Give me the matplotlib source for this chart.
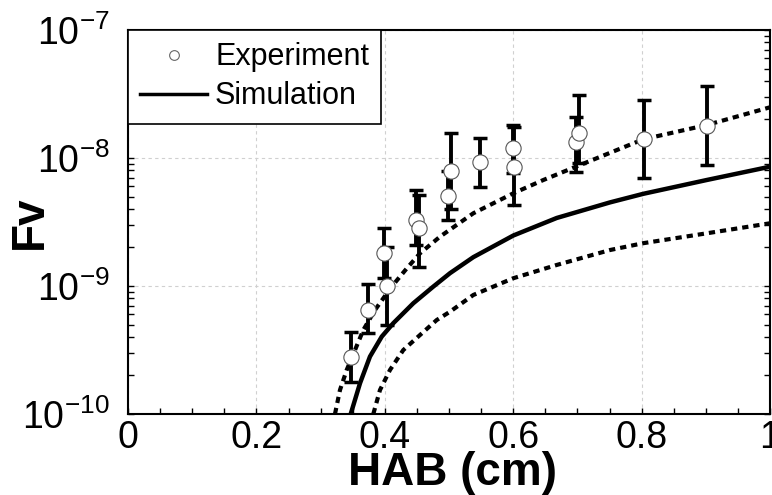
import numpy as np
import matplotlib
matplotlib.use("Agg")
import matplotlib.pyplot as plt
from matplotlib.lines import Line2D
from matplotlib.ticker import FixedLocator, FixedFormatter, LogLocator, NullFormatter

plt.rcParams['font.family'] = ['Liberation Sans', 'DejaVu Sans']
plt.rcParams['mathtext.fontset'] = 'custom'
plt.rcParams['mathtext.rm'] = 'Liberation Sans'
plt.rcParams['mathtext.it'] = 'Liberation Sans:italic'
plt.rcParams['mathtext.bf'] = 'Liberation Sans:bold'

# ---- data ----
exp_x = [0.348, 0.374, 0.398, 0.403, 0.448, 0.453, 0.498, 0.503, 0.548,
         0.599, 0.602, 0.698, 0.703, 0.803, 0.902]
exp_y = [2.81e-10, 6.49e-10, 1.82e-9, 1.00e-9, 3.28e-9, 2.82e-9, 5.05e-9, 7.94e-9, 9.25e-9,
         1.19e-8, 8.55e-9, 1.34e-8, 1.56e-8, 1.41e-8, 1.78e-8]
exp_hi = [4.40e-10, 1.04e-9, 2.82e-9, 2.03e-9, 5.62e-9, 5.13e-9, 7.94e-9, 1.58e-8, 1.43e-8,
          1.81e-8, 1.74e-8, 2.08e-8, 3.10e-8, 2.84e-8, 3.65e-8]
exp_lo = [1.79e-10, 4.27e-10, 1.15e-9, 4.95e-10, 2.09e-9, 1.41e-9, 3.28e-9, 3.98e-9, 5.97e-9,
          7.59e-9, 4.30e-9, 7.73e-9, 9.12e-9, 7.02e-9, 8.81e-9]

sim_x = [0.3469, 0.3614, 0.3769, 0.3952, 0.4132, 0.4444, 0.4755, 0.5016, 0.5379,
         0.6002, 0.6678, 0.7508, 0.8026, 0.9014, 1.0]
sim_y = [1.0e-10, 1.74e-10, 2.81e-10, 4.02e-10, 5.12e-10, 7.33e-10, 9.89e-10, 1.26e-9, 1.68e-9,
         2.48e-9, 3.40e-9, 4.50e-9, 5.25e-9, 6.73e-9, 8.55e-9]

upper_x = [0.3224, 0.3302, 0.3407, 0.3536, 0.3665, 0.3847, 0.4107, 0.4341, 0.4548,
           0.4860, 0.5379, 0.6002, 0.6469, 0.7352, 0.8026, 0.9014, 1.0]
upper_y = [1.0e-10, 1.54e-10, 2.21e-10, 3.16e-10, 4.53e-10, 6.49e-10, 9.89e-10, 1.37e-9, 1.80e-9,
           2.43e-9, 3.70e-9, 5.30e-9, 6.73e-9, 1.02e-8, 1.40e-8, 1.81e-8, 2.49e-8]

lower_x = [0.3821, 0.3925, 0.4081, 0.4288, 0.4548, 0.4808, 0.5016, 0.5379, 0.6002,
           0.6678, 0.7508, 0.8026, 0.9014, 1.0]
lower_y = [1.0e-10, 1.54e-10, 2.21e-10, 3.16e-10, 4.14e-10, 5.42e-10, 6.30e-10, 8.51e-10, 1.15e-9,
           1.46e-9, 1.91e-9, 2.16e-9, 2.58e-9, 3.09e-9]

xticks = [0, 0.2, 0.4, 0.6, 0.8, 1.0]
xtick_labels = ['0', '0.2', '0.4', '0.6', '0.8', '1']
yticks = [1e-10, 1e-9, 1e-8, 1e-7]
ytick_labels = [r'$\mathregular{10^{-10}}$', r'$\mathregular{10^{-9}}$',
                r'$\mathregular{10^{-8}}$', r'$\mathregular{10^{-7}}$']

# ---- figure ----
fig = plt.figure(figsize=(7.72, 4.95), dpi=100)
ax = fig.add_axes([128/772, 1-414/495, 642/772, 384/495])
ax.set_yscale('log')
ax.set_xlim(0, 1)
ax.set_ylim(1e-10, 1e-7)

dash = (0, (1.5, 1.2))
ax.plot(upper_x, upper_y, color='black', lw=3, linestyle=dash, zorder=2)
ax.plot(lower_x, lower_y, color='black', lw=3, linestyle=dash, zorder=2)
ax.plot(sim_x, sim_y, color='black', lw=3.2, zorder=2)

ey = np.array(exp_y)
yerr = [ey - np.array(exp_lo), np.array(exp_hi) - ey]
ax.errorbar(exp_x, exp_y, yerr=yerr, fmt='none', ecolor='black', elinewidth=2.8,
            capsize=5, capthick=2.5, zorder=3)
ax.plot(exp_x, exp_y, 'o', ms=11, mfc='white', mec='#555555', mew=0.8, zorder=4)

# ticks
ax.xaxis.set_major_locator(FixedLocator(xticks))
ax.xaxis.set_major_formatter(FixedFormatter(xtick_labels))
ax.xaxis.set_minor_locator(FixedLocator(np.arange(0.05, 1.0, 0.05)))
ax.yaxis.set_major_locator(FixedLocator(yticks))
ax.yaxis.set_major_formatter(FixedFormatter(ytick_labels))
ax.yaxis.set_minor_locator(LogLocator(base=10, subs=np.arange(2, 10)))
ax.yaxis.set_minor_formatter(NullFormatter())
ax.tick_params(axis='x', which='both', direction='in', top=False, bottom=True,
               length=4, width=1, labelsize=27, pad=4)
ax.tick_params(axis='y', which='both', direction='in', left=True, right=True,
               length=4, width=1, labelsize=27, pad=13)

ax.grid(True, which='major', color='#d0d0d0', linestyle=(0, (3, 3)), linewidth=0.8)
for s in ax.spines.values():
    s.set_linewidth(1.5)

ax.set_xlabel('HAB (cm)', fontsize=33, fontweight='bold')
ax.xaxis.label.set_va('baseline')
ax.xaxis.set_label_coords(0.506, -0.185)
ax.set_ylabel('Fv', fontsize=33, fontweight='bold')
ax.yaxis.label.set_va('center')
ax.yaxis.set_label_coords(-0.153, 0.5)

handles = [Line2D([], [], marker='o', ls='none', ms=7, mfc='white', mec='#666666', mew=0.8),
           Line2D([], [], color='black', lw=2.5)]
leg = ax.legend(handles, ['Experiment', 'Simulation'], loc='upper left',
                bbox_to_anchor=(0, 1), borderaxespad=0, fontsize=22, fancybox=False,
                edgecolor='black', framealpha=1, handlelength=2.2, handletextpad=0.25,
                labelspacing=0.3, borderpad=0.4)
leg.get_frame().set_linewidth(1.2)

fig.savefig('out.png', dpi=100)
